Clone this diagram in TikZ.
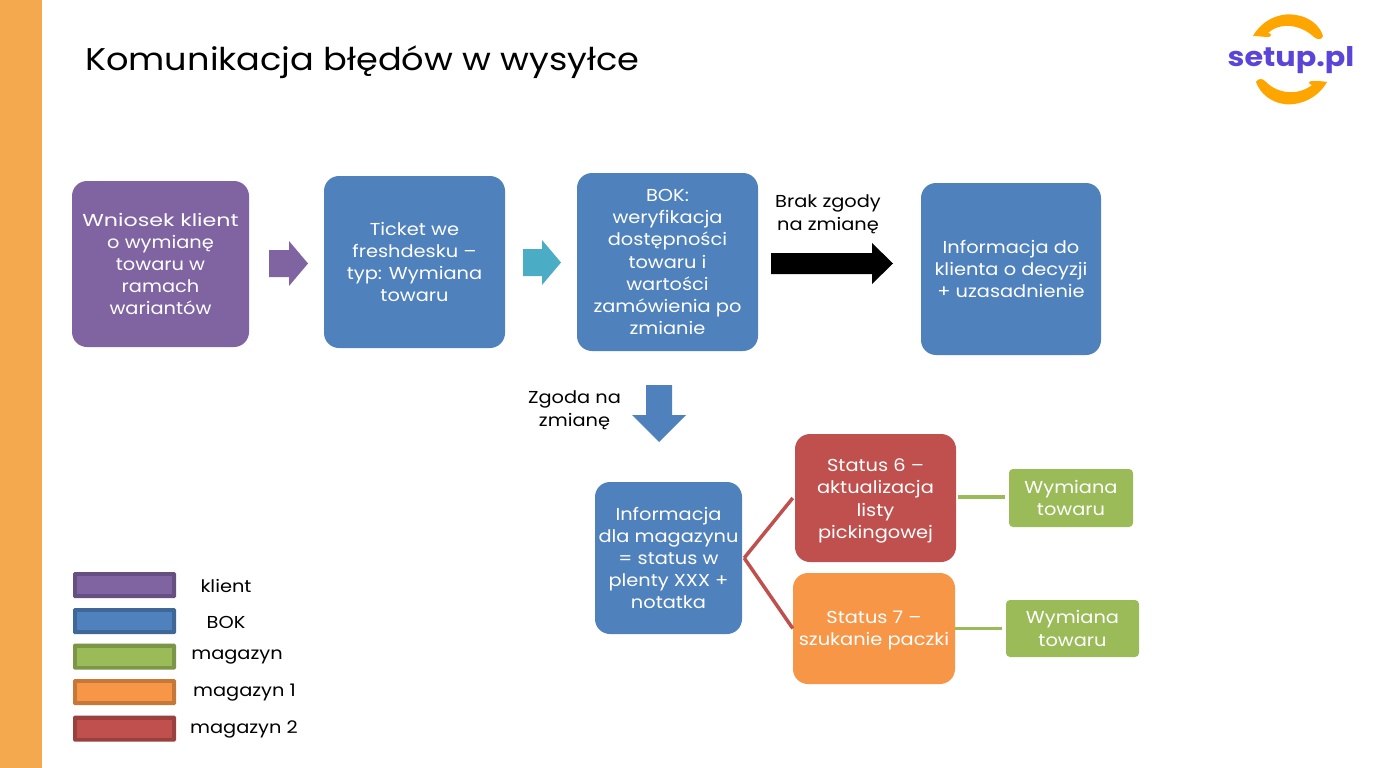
\documentclass[tikz,border=0pt]{standalone}
\usepackage{fontspec}
\setmainfont{Poppins}[FakeStretch=1.12]
\usetikzlibrary{shapes.arrows,calc}
\definecolor{cpurple}{HTML}{8064A2}
\definecolor{cblue}{HTML}{4F81BD}
\definecolor{cred}{HTML}{C0504D}
\definecolor{corange}{HTML}{F79646}
\definecolor{cgreen}{HTML}{9BBB59}
\definecolor{cteal}{HTML}{4BACC6}
\definecolor{cbar}{HTML}{F5A94F}
\definecolor{clogo}{HTML}{FFA500}
\definecolor{clogot}{HTML}{5B45D8}
\tikzset{
 x=1pt,y=-1pt,
 card/.style={fill=#1,rounded corners=15pt,text=white,align=center,inner sep=0pt,font=\fontsize{17.3}{22.2}\selectfont},
 smallcard/.style={card=#1,rounded corners=4pt},
 leg/.style={fill=#1!80!black,rounded corners=1.5pt,minimum width=103pt,minimum height=26pt,inner sep=0pt},
 legin/.style={fill=#1,minimum width=95pt,minimum height=18pt,inner sep=0pt},
 legt/.style={font=\fontsize{17.3}{20}\selectfont,inner sep=0pt},
 lab/.style={font=\fontsize{17.3}{23}\selectfont,align=center,inner sep=0pt},
 rline/.style={draw=cred,line width=3.5pt},
 gline/.style={draw=cgreen,line width=3.5pt},
}
\newcommand{\boxat}[7][card]{\node[#1=#7,minimum width=#4pt-#2pt,minimum height=#5pt-#3pt] (#6) at ({(#2+#4)/2},{(#3+#5)/2})}
\newcommand{\pushdown}[1]{\rule{0pt}{#1pt}}
\begin{document}
\begin{tikzpicture}
\useasboundingbox (0,0) rectangle (1382,768);
\fill[white] (0,0) rectangle (1382,768);
\fill[cbar] (0,0) rectangle (42,768);
\node[anchor=west,inner sep=0pt,font=\fontsize{31.4}{40}\selectfont] (title) at (85,62) {Komunikacja błędów w wysyłce};
% logo
\fill[clogo] (1253,36) .. controls (1262,20) and (1280,12) .. (1296,15) .. controls (1310,17) and (1320,26) .. (1323,36) .. controls (1322,40) and (1317,40) .. (1314,37) .. controls (1300,24) and (1280,22) .. (1268,33) .. controls (1272,33) and (1272,37) .. (1268,37) .. controls (1264,37) and (1258,36) .. (1253,36) -- cycle;
\fill[clogo] (1256,82) .. controls (1258,78) and (1263,78) .. (1266,82) .. controls (1278,94) and (1298,96) .. (1312,85) .. controls (1308,84) and (1308,81) .. (1312,81) .. controls (1316,81) and (1322,81) .. (1327,82) .. controls (1318,98) and (1300,106) .. (1284,104) .. controls (1270,102) and (1260,93) .. (1256,82) -- cycle;
\node[inner sep=0pt,text=clogot,font=\fontsize{27}{30}\selectfont\bfseries] (logo) at (1291,60) {setup.pl};
% main boxes
\boxat{72}{181}{249}{347}{a}{cpurple} {{\addfontfeature{FakeStretch=1.28}Wniosek klient}\\o wymianę\\towaru w\\ramach\\wariantów};
\boxat{324}{176}{505}{348}{b}{cblue} {Ticket we\\freshdesku –\\typ: Wymiana\\towaru};
\boxat{577}{173}{758}{351}{c}{cblue} {BOK:\\weryfikacja\\dostępności\\towaru i\\wartości\\zamówienia po\\zmianie};
\boxat{921}{183}{1101}{355}{d}{cblue} {Informacja do\\klienta o decyzji\\+ uzasadnienie};
\boxat{595}{482}{742}{634}{e}{cblue} {Informacja\\dla magazynu\\= status w\\plenty XXX +\\notatka};
\boxat{795}{434}{956}{562}{f}{cred} {\pushdown{18.5}Status 6 –\\aktualizacja\\listy\\pickingowej};
\boxat{793}{573}{955}{684}{g}{corange} {\pushdown{17}Status 7 –\\szukanie paczki};
\boxat[smallcard]{1009}{469}{1133}{527}{h}{cgreen} {Wymiana\\towaru};
\boxat[smallcard]{1006}{600}{1139}{657}{i}{cgreen} {Wymiana\\towaru};
% block arrows
\fill[cpurple] (269,250) -- (289,250) -- (289,241) -- (308,263.5) -- (289,286) -- (289,277) -- (269,277) -- cycle;
\fill[cteal] (523,249) -- (542,249) -- (542,240) -- (561,262.5) -- (542,285) -- (542,276) -- (523,276) -- cycle;
\fill[black] (771,253) -- (872,253) -- (872,243) -- (893,263.5) -- (872,284) -- (872,274) -- (771,274) -- cycle;
\fill[cblue] (646,385) -- (672,385) -- (672,415) -- (686,415) -- (659,442) -- (632,415) -- (646,415) -- cycle;
\node[lab] (nozg) at (828,214) {Brak zgody\\na zmianę};
\node[lab] (zg) at (574.5,410) {Zgoda na\\zmianę};
% connectors
\coordinate (apex) at ($(e.east)+(2,0)$);
\draw[rline] (apex) -- ($(f.west)+(-2,0)$);
\draw[rline] (apex) -- (g.west);
\draw[gline] ($(f.east)+(2,-1)$) -- ($(h.west)+(-4,-1)$);
\draw[gline] (g.east) -- ($(i.west)+(-4,0)$);
% legend
\foreach \n/\c/\y/\t/\tx in {l1/cpurple/585/klient/226,l2/cblue/621/BOK/226,l3/cgreen/656.5/magazyn/237,l4/corange/692/magazyn 1/244.5,l5/cred/728.5/magazyn 2/244}{
 \node[leg=\c] (\n) at (124.5,\y) {};
 \node[legin=\c] at (\n) {};
 \node[legt] at (\tx,\y+1) {\t};
}
\end{tikzpicture}
\end{document}
